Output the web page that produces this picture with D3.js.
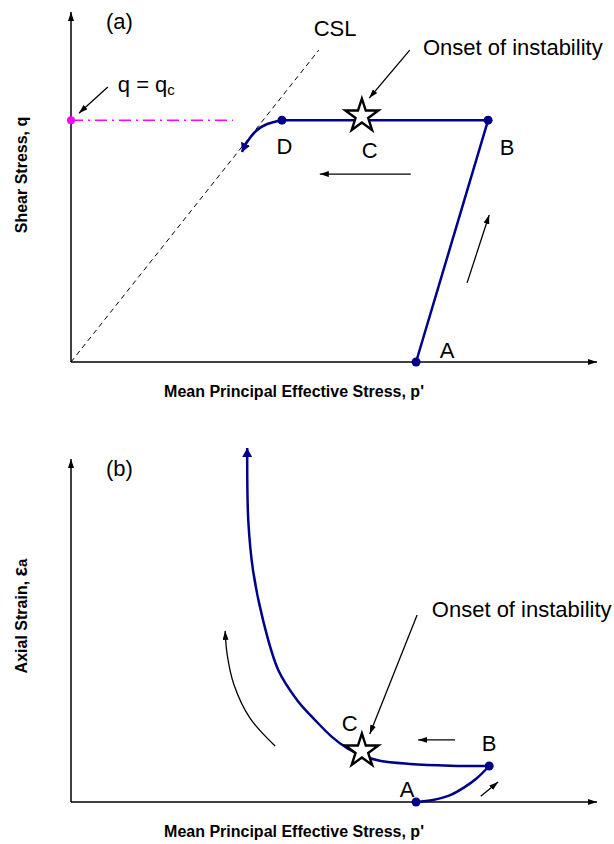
<!DOCTYPE html>
<html>
<head>
<meta charset="utf-8">
<script src="https://cdn.jsdelivr.net/npm/d3@7"></script>
<style>
  body { margin: 0; background: #fff; }
  text { font-family: "Liberation Sans", Arial, sans-serif; }
</style>
</head>
<body>
<script>
// ---- data (p' and q / strain in arbitrary units, 0..100) ----
var topStressPath = [[65.6, 0], [79.3, 69.1], [40.1, 69.1]];          // A -> B -> D
var topCollapse = [[40.1, 69.1], [37.3, 68.0], [35.4, 66.3], [33.5, 62.9], [32.5, 60.0]];
var topPoints = [[65.6, 0], [79.3, 69.1], [40.1, 69.1]];
var cslLine = [[0, 0], [47.1, 89.1]];
var qcLine = [[0, 69.1], [30.8, 69.1]];
var topStar = [55.3, 70.3];
var topArrows = [
    [[7.0, 78.6], [1.5, 71.1]],
    [[64.4, 89.1], [56.7, 75.4]],
    [[64.6, 53.7], [47.3, 53.7]],
    [[75.3, 22.6], [79.5, 42.0]]
];
var topLabels = [
    {text: "A", p: 71.5, v: 1.1, anchor: "middle"},
    {text: "B", p: 82.9, v: 59.1, anchor: "middle"},
    {text: "C", p: 56.8, v: 58.3, anchor: "middle"},
    {text: "D", p: 40.6, v: 59.4, anchor: "middle"},
    {text: "CSL", p: 50.2, v: 93.1, anchor: "middle"},
    {text: "Onset of instability", p: 66.9, v: 87.7, anchor: "start"},
    {text: "(a)", p: 6.65, v: 95.1, anchor: "start"}
];
var qcLabel = {p: 8.9, v: 77.1};

var botLoading = [[65.6, 0], [68.8, 0.6], [72.1, 2.0], [74.9, 4.4], [77.2, 7.0], [79.5, 10.5]];
var botUnstable = [[79.5, 10.5], [72.1, 10.6], [64.4, 11.1], [58.7, 12.0], [55.1, 13.7],
    [52.5, 15.7], [49.6, 19.0], [46.4, 23.9], [43.0, 29.7], [39.4, 38.5],
    [36.5, 53.1], [34.6, 67.6], [33.7, 82.2], [33.5, 103.2]];
var botPoints = [[65.6, 0], [79.5, 10.5]];
var botStar = [55.3, 14.9];
var botTrend = [[38.8, 16.3], [34.0, 24.5], [31.0, 34.1], [29.7, 42.9], [29.3, 49.9]];
var botArrows = [
    [[65.8, 54.5], [56.8, 19.8]],
    [[73.0, 18.1], [66.0, 18.1]],
    [[77.9, 1.7], [81.2, 5.8]]
];
var botLabels = [
    {text: "A", p: 63.9, v: 1.5, anchor: "middle"},
    {text: "B", p: 79.5, v: 14.9, anchor: "middle"},
    {text: "C", p: 53.0, v: 20.7, anchor: "middle"},
    {text: "Onset of instability", p: 68.6, v: 53.9, anchor: "start"},
    {text: "(b)", p: 6.65, v: 95.0, anchor: "start"}
];

var xTitle = "Mean Principal Effective Stress, p'";

// ---- layout ----
var width = 614, height = 844,
    navy = "#00008b",
    magenta = "#ff00ff";

var svg = d3.select("body").append("svg")
    .attr("width", width)
    .attr("height", height);

var defs = svg.append("defs");

function addMarker(id, color, len, wid) {
    defs.append("marker")
        .attr("id", id)
        .attr("viewBox", "0 0 10 10")
        .attr("preserveAspectRatio", "none")
        .attr("refX", 10)
        .attr("refY", 5)
        .attr("markerUnits", "userSpaceOnUse")
        .attr("markerWidth", len)
        .attr("markerHeight", wid)
        .attr("orient", "auto")
        .append("path")
        .attr("d", "M0,0L10,5L0,10Z")
        .attr("fill", color);
}
addMarker("arrowBlack", "#000", 9, 6);
addMarker("arrowNavy", navy, 9, 10);

var x = d3.scaleLinear().domain([0, 100]).range([71, 597]);
var yTop = d3.scaleLinear().domain([0, 100]).range([362, 12]);
var yBot = d3.scaleLinear().domain([0, 100]).range([802, 459]);

function drawPanel(y, o) {
    var g = svg.append("g");
    var line = d3.line().x(function (d) { return x(d[0]); }).y(function (d) { return y(d[1]); });
    var curve = d3.line().x(function (d) { return x(d[0]); }).y(function (d) { return y(d[1]); })
        .curve(d3.curveCatmullRom.alpha(0.5));

    // axes
    g.append("line")
        .attr("x1", x(0)).attr("y1", y(0)).attr("x2", x(100)).attr("y2", y(0))
        .attr("stroke", "#000").attr("stroke-width", 1.5)
        .attr("marker-end", "url(#arrowBlack)");
    g.append("line")
        .attr("x1", x(0)).attr("y1", y(0)).attr("x2", x(0)).attr("y2", y(100))
        .attr("stroke", "#000").attr("stroke-width", 1.5)
        .attr("marker-end", "url(#arrowBlack)");

    if (o.extra) o.extra(g, line, curve);

    // stress paths
    o.straight.forEach(function (d) {
        g.append("path").attr("d", line(d))
            .attr("fill", "none").attr("stroke", navy).attr("stroke-width", 2.5)
            .attr("stroke-linejoin", "round");
    });
    o.curves.forEach(function (d) {
        g.append("path").attr("d", curve(d.pts))
            .attr("fill", "none").attr("stroke", navy).attr("stroke-width", 2.5)
            .attr("marker-end", d.arrow ? "url(#arrowNavy)" : null);
    });

    g.selectAll("circle.pt")
        .data(o.points)
        .enter()
        .append("circle")
        .attr("class", "pt")
        .attr("cx", function (d) { return x(d[0]); })
        .attr("cy", function (d) { return y(d[1]); })
        .attr("r", 4.5)
        .attr("fill", navy);

    // star
    g.append("path")
        .attr("d", d3.symbol(d3.symbolStar, 340)())
        .attr("transform", "translate(" + x(o.star[0]) + "," + y(o.star[1]) + ")")
        .attr("fill", "#fff").attr("stroke", "#000").attr("stroke-width", 2.4)
        .attr("stroke-linejoin", "miter");

    // annotation arrows
    g.selectAll("line.ann")
        .data(o.arrows)
        .enter()
        .append("line")
        .attr("class", "ann")
        .attr("x1", function (d) { return x(d[0][0]); })
        .attr("y1", function (d) { return y(d[0][1]); })
        .attr("x2", function (d) { return x(d[1][0]); })
        .attr("y2", function (d) { return y(d[1][1]); })
        .attr("stroke", "#000").attr("stroke-width", 1.3)
        .attr("marker-end", "url(#arrowBlack)");

    if (o.trend) {
        g.append("path").attr("d", curve(o.trend))
            .attr("fill", "none").attr("stroke", "#000").attr("stroke-width", 1.3)
            .attr("marker-end", "url(#arrowBlack)");
    }

    // labels
    g.selectAll("text.lbl")
        .data(o.labels)
        .enter()
        .append("text")
        .attr("class", "lbl")
        .attr("x", function (d) { return x(d.p); })
        .attr("y", function (d) { return y(d.v); })
        .attr("text-anchor", function (d) { return d.anchor; })
        .attr("font-size", 22)
        .attr("fill", "#000")
        .text(function (d) { return d.text; });

    // axis titles
    g.append("text")
        .attr("x", 294)
        .attr("y", y(0) + 35)
        .attr("text-anchor", "middle")
        .attr("font-size", 16)
        .attr("font-weight", "bold")
        .text(xTitle);

    var yt = g.append("text")
        .attr("transform", "translate(27," + o.yTitleY + ") rotate(-90)")
        .attr("text-anchor", "middle")
        .attr("font-size", 16)
        .attr("font-weight", "bold");
    yt.append("tspan").text(o.yTitle);
    if (o.yTitleSym) {
        yt.append("tspan").attr("font-size", 20).text(o.yTitleSym);
        yt.append("tspan").attr("font-size", 15).text(o.yTitleSub);
    }
}

drawPanel(yTop, {
    straight: [topStressPath],
    curves: [{pts: topCollapse, arrow: true}],
    points: topPoints,
    star: topStar,
    arrows: topArrows,
    labels: topLabels,
    yTitle: "Shear Stress, q",
    yTitleY: 175,
    extra: function (g, line) {
        g.append("path").attr("d", line(cslLine))
            .attr("fill", "none").attr("stroke", "#000").attr("stroke-width", 1)
            .attr("stroke-dasharray", "5,4");
        g.append("path").attr("d", line(qcLine))
            .attr("fill", "none").attr("stroke", magenta).attr("stroke-width", 1.5)
            .attr("stroke-dasharray", "12,5,2,5");
        g.append("circle")
            .attr("cx", x(qcLine[0][0])).attr("cy", yTop(qcLine[0][1]))
            .attr("r", 4).attr("fill", magenta);
        var t = g.append("text")
            .attr("x", x(qcLabel.p)).attr("y", yTop(qcLabel.v))
            .attr("font-size", 22);
        t.append("tspan").text("q = q");
        t.append("tspan").attr("font-size", 15).attr("dy", 3).text("c");
    }
});

drawPanel(yBot, {
    straight: [],
    curves: [{pts: botLoading, arrow: false}, {pts: botUnstable, arrow: true}],
    points: botPoints,
    star: botStar,
    arrows: botArrows,
    trend: botTrend,
    labels: botLabels,
    yTitle: "Axial Strain, ",
    yTitleSym: "\u03b5",
    yTitleSub: "a",
    yTitleY: 616
});
</script>
</body>
</html>
